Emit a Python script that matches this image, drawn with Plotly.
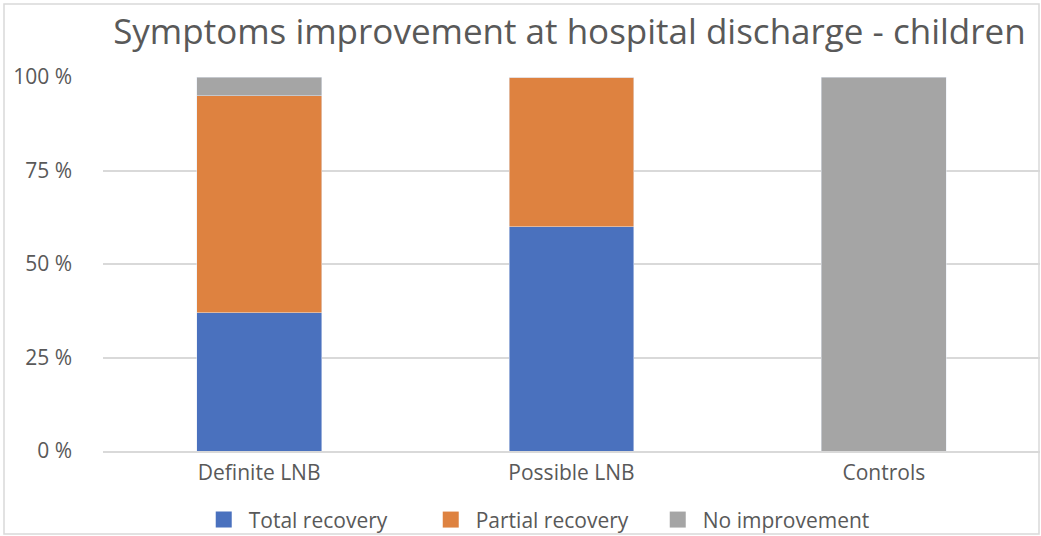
import plotly.graph_objects as go

categories = ["Definite LNB", "Possible LNB", "Controls"]
total_recovery = [37, 60, 0]
partial_recovery = [58, 40, 0]
no_improvement = [5, 0, 100]
series_names = ["Total recovery", "Partial recovery", "No improvement"]
series_colors = ["#4A71BE", "#DE8240", "#A5A5A5"]
tick_vals = [0, 25, 50, 75, 100]
tick_text = ["0 %", "25 %", "50 %", "75 %", "100 %"]

FONT = "Open Sans"
TXT = "#595959"

fig = go.Figure()
for name, vals, col in zip(series_names, [total_recovery, partial_recovery, no_improvement], series_colors):
    fig.add_bar(x=categories, y=vals, name=name, marker_color=col,
                legendgroup=name, showlegend=False)
    fig.add_scatter(x=[None], y=[None], mode="markers", name=name, legendgroup=name,
                    marker=dict(symbol="square", size=17, color=col))

fig.update_layout(
    barmode="stack",
    bargap=0.6,
    width=1041, height=536,
    margin=dict(l=103, r=1, t=77, b=85, autoexpand=False),
    paper_bgcolor="white", plot_bgcolor="white",
    font=dict(family=FONT, color=TXT, size=21),
    title=dict(text="Symptoms improvement at hospital discharge - children",
               x=0.547, xanchor="center", y=0.94, yanchor="middle",
               font=dict(family=FONT, size=35, color=TXT)),
    legend=dict(orientation="h", x=0.518, xref="container", xanchor="center",
                y=0.03, yref="container", yanchor="middle", bgcolor="rgba(0,0,0,0)",
                font=dict(size=21, color=TXT), traceorder="normal", itemwidth=40,
                entrywidth=172),
    xaxis=dict(showline=True, linecolor="#D9D9D9", linewidth=2, ticks="",
               ticklabelstandoff=2, tickfont=dict(size=21, color=TXT)),
    yaxis=dict(range=[0, 100], tickvals=tick_vals, ticktext=tick_text,
               showgrid=True, gridcolor="#D9D9D9", gridwidth=2, zeroline=False,
               ticklabelstandoff=30, tickfont=dict(size=21, color=TXT)),
    shapes=[dict(type="rect", xref="paper", yref="paper",
                 x0=(4 - 103) / 937, x1=(1039 - 103) / 937,
                 y0=(451 - 534) / 374, y1=(451 - 4) / 374,
                 line=dict(color="#D9D9D9", width=1.5), layer="below")],
)

fig.write_html("out.html")
